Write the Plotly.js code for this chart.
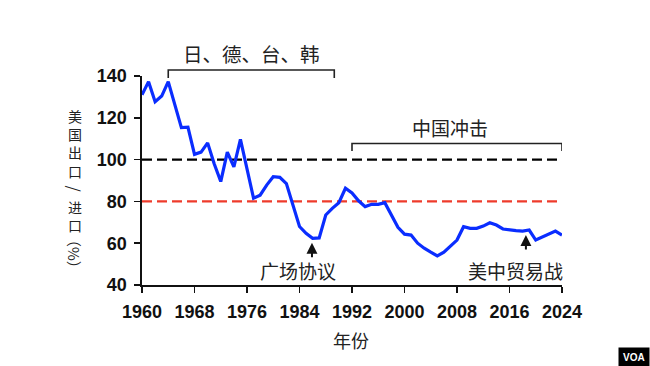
<!DOCTYPE html>
<html>
<head>
<meta charset="utf-8">
<script src="https://cdn.plot.ly/plotly-3.0.1.min.js"></script>
<style>html,body{margin:0;padding:0;background:#fff;}#chart{width:650px;height:366px;}</style>
</head>
<body>
<div id="chart"></div>
<script>
// ---- data ----
const years = [1960,1961,1962,1963,1964,1965,1966,1967,1968,1969,
  1970,1971,1972,1973,1974,1975,1976,1977,1978,1979,
  1980,1981,1982,1983,1984,1985,1986,1987,1988,1989,
  1990,1991,1992,1993,1994,1995,1996,1997,1998,1999,
  2000,2001,2002,2003,2004,2005,2006,2007,2008,2009,
  2010,2011,2012,2013,2014,2015,2016,2017,2018,2019,
  2020,2021,2022,2023,2024];
const ratio = [131,137.3,127.7,130.4,137.3,126,115.3,115.5,102.5,103.6,
  108,98,89.5,103.6,96.5,109.7,95,81.5,83,87.8,
  91.8,91.5,88.5,78,68,64.7,62.3,62.5,73.5,76.7,
  79.4,86.3,84,80.3,77.5,78.6,78.6,79.4,73.5,67.6,
  64.3,63.9,60,57.6,55.7,53.9,55.7,58.7,61.5,67.9,
  67.1,67.1,68.2,69.8,68.7,66.8,66.3,66,65.8,66.3,
  61.5,62.8,64.3,65.8,63.9];
const xTickVals = [1960,1968,1976,1984,1992,2000,2008,2016,2024];
const yTickVals = [40,60,80,100,120,140];
const refLines = [100, 80];
const refColors = ['#000000', '#ee3b2b'];
const eraLabels = ['日、德、台、韩', '中国冲击'];
const eraStart = [1964, 1992];
const eraEnd = [1989.3, 2024];
const eventLabels = ['广场协议', '美中贸易战'];
const eventYear = [1985.9, 2018.5];
const eventValue = [60.2, 63.9];
const eventLabelYear = [1983.7, 2016.9];
const yTitleTop = ['美','国','出','口'];
const yTitleSlash = '/';
const yTitleBottom = ['进','口'];
const yTitleUnit = '（%）';
const xTitle = '年份';

const CJK = 'Noto Sans CJK SC, sans-serif';
const NUM = 'Liberation Sans, Arial, sans-serif';

const traces = [];
refLines.forEach((v, i) => {
  traces.push({x: [xTickVals[0], xTickVals[xTickVals.length-1]], y: [v, v], mode: 'lines',
    line: {color: refColors[i], width: 2.2, dash: '10px,5px'}, hoverinfo: 'skip', cliponaxis: false});
});
traces.push({x: years, y: ratio, mode: 'lines', line: {color: '#0a2dff', width: 3.2},
  cliponaxis: false, hoverinfo: 'skip'});

const annotations = [];
const shapes = [];
const W = 650, H = 366, mL = 142, mR = 88, mT = 76, mB = 81;
const pw = W - mL - mR, ph = H - mT - mB;
const pxX = px => (px - mL) / pw;
const pxY = py => (H - mB - py) / ph;

// bracket 1 (above plot)
shapes.push({type: 'path', xref: 'x', yref: 'paper',
  path: `M${eraStart[0]},${pxY(78)} L${eraStart[0]},${pxY(70)} L${eraEnd[0]},${pxY(70)} L${eraEnd[0]},${pxY(78)}`,
  line: {color: '#222', width: 1.6}});
annotations.push({xref: 'x', yref: 'paper', x: (eraStart[0]+eraEnd[0])/2, y: pxY(53), text: eraLabels[0],
  showarrow: false, font: {family: CJK, size: 19.5, color: '#222'}, xanchor: 'center', yanchor: 'middle'});
// bracket 2 (inside plot)
shapes.push({type: 'path', xref: 'x', yref: 'paper',
  path: `M${eraStart[1]},${pxY(151)} L${eraStart[1]},${pxY(143.5)} L${eraEnd[1]},${pxY(143.5)} L${eraEnd[1]},${pxY(151)}`,
  line: {color: '#222', width: 1.6}});
annotations.push({xref: 'x', yref: 'paper', x: 2006.9, y: pxY(127.5), text: eraLabels[1],
  showarrow: false, font: {family: CJK, size: 19, color: '#222'}, xanchor: 'center', yanchor: 'middle'});

// event arrows + labels
eventLabels.forEach((t, i) => {
  annotations.push({x: eventYear[i], y: eventValue[i], xref: 'x', yref: 'y', text: '', showarrow: true,
    ax: 0, ay: 16, arrowhead: 2, arrowsize: 1.1, arrowwidth: 2, arrowcolor: '#111', standoff: 0});
  annotations.push({x: eventLabelYear[i], y: pxY(270), xref: 'x', yref: 'paper', text: t, showarrow: false,
    font: {family: CJK, size: 19, color: '#222'}, xanchor: 'center', yanchor: 'middle'});
});

// vertical y-axis title (upright stacked characters)
const yt = {family: CJK, size: 14, color: '#222'};
annotations.push({xref: 'paper', yref: 'paper', x: pxX(75), y: pxY(143.2), text: yTitleTop.join('<br>'),
  showarrow: false, font: yt, xanchor: 'center', yanchor: 'middle'});
annotations.push({xref: 'paper', yref: 'paper', x: pxX(75), y: pxY(188.4), text: yTitleSlash,
  showarrow: false, textangle: 90, font: {family: CJK, size: 16, color: '#222'}, xanchor: 'center', yanchor: 'middle'});
annotations.push({xref: 'paper', yref: 'paper', x: pxX(75), y: pxY(215.6), text: yTitleBottom.join('<br>'),
  showarrow: false, font: yt, xanchor: 'center', yanchor: 'middle'});
annotations.push({xref: 'paper', yref: 'paper', x: pxX(75), y: pxY(254), text: yTitleUnit, showarrow: false,
  textangle: 90, font: {family: CJK, size: 15, color: '#222'}, xanchor: 'center', yanchor: 'middle'});

// x title
annotations.push({xref: 'paper', yref: 'paper', x: pxX(351), y: pxY(340), text: xTitle, showarrow: false,
  font: {family: CJK, size: 18, color: '#222'}, xanchor: 'center', yanchor: 'middle'});

// VOA logo
annotations.push({xref: 'paper', yref: 'paper', x: pxX(634), y: pxY(357), text: '<b>VOA</b>', showarrow: false,
  font: {family: NUM, size: 10, color: '#fff'}, bgcolor: '#000', borderpad: 4, xanchor: 'center', yanchor: 'middle'});

const layout = {
  width: W, height: H,
  margin: {l: mL, r: mR, t: mT, b: mB, pad: 0},
  paper_bgcolor: '#fff', plot_bgcolor: '#fff',
  showlegend: false,
  xaxis: {range: [1960, 2024], tickvals: xTickVals, ticktext: xTickVals.map(String),
    showgrid: false, zeroline: false, showline: true, linecolor: '#111', linewidth: 1.6,
    ticks: 'outside', ticklen: 6, tickwidth: 1.6, tickcolor: '#111', ticklabelstandoff: 4,
    tickfont: {family: NUM, size: 18, color: '#111', weight: 'bold'}},
  yaxis: {range: [40, 140], tickvals: yTickVals, showgrid: false, zeroline: false, showline: true,
    linecolor: '#111', linewidth: 1.6, ticks: 'outside', ticklen: 6, tickwidth: 1.6, tickcolor: '#111',
    ticklabelstandoff: 4,
    tickfont: {family: NUM, size: 18, color: '#111', weight: 'bold'}},
  shapes: shapes,
  annotations: annotations
};
Plotly.newPlot('chart', traces, layout, {displayModeBar: false, staticPlot: true});
</script>
</body>
</html>
